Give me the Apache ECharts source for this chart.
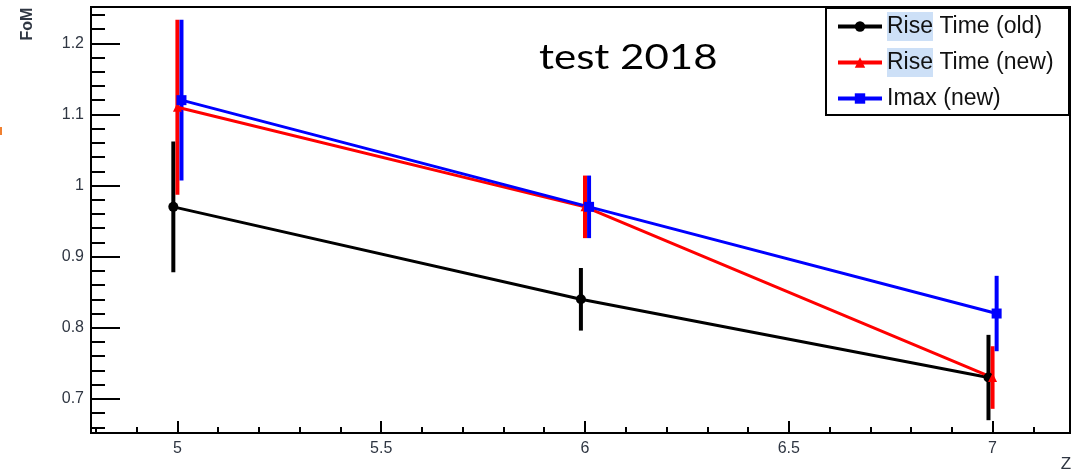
<!DOCTYPE html>
<html>
<head>
<meta charset="utf-8">
<script src="https://cdn.jsdelivr.net/npm/echarts@6/dist/echarts.min.js"></script>
<style>
  html, body { margin: 0; padding: 0; background: #fff; }
  #main { width: 1086px; height: 472px; }
</style>
</head>
<body>
<div id="main"></div>
<script>
// values (points are shifted a bit in Z so the bars don't overlap)
var zOld = [4.99, 5.99, 6.99];
var fomOld = [0.97, 0.84, 0.73];
var errOld = [0.092, 0.044, 0.06];

var zRiseNew = [5.0, 6.0, 7.0];
var fomRiseNew = [1.11, 0.97, 0.73];
var errRiseNew = [0.123, 0.044, 0.044];

var zImax = [5.01, 6.01, 7.01];
var fomImax = [1.12, 0.97, 0.82];
var errImax = [0.113, 0.044, 0.053];

var xMajor = [5, 5.5, 6, 6.5, 7];
var yMajor = [0.7, 0.8, 0.9, 1.0, 1.1, 1.2];

var xMinor = [];
for (var i = 48; i <= 71; i++) { if (i % 5 !== 0) xMinor.push(i / 10); }
var yMinor = [];
for (var j = 33; j <= 62; j++) { if (j % 5 !== 0) yMinor.push(j / 50); }

var labelColor = '#2f3642';

function pairs(xs, ys) {
    return xs.map(function (x, k) { return [x, ys[k]]; });
}

function errSeries(name, xs, ys, es, color) {
    return {
        name: name,
        type: 'custom',
        xAxisIndex: 0,
        yAxisIndex: 0,
        data: xs.map(function (x, k) { return [x, ys[k] - es[k], ys[k] + es[k]]; }),
        renderItem: function (params, api) {
            var p1 = api.coord([api.value(0), api.value(1)]);
            var p2 = api.coord([api.value(0), api.value(2)]);
            return {
                type: 'line',
                shape: { x1: p1[0], y1: p1[1], x2: p2[0], y2: p2[1] },
                style: { stroke: color, lineWidth: 4 }
            };
        }
    };
}

function lineSeries(name, xs, ys, color, symbol, size) {
    return {
        name: name,
        type: 'line',
        xAxisIndex: 0,
        yAxisIndex: 0,
        data: pairs(xs, ys),
        symbol: symbol,
        symbolSize: size,
        color: color,
        itemStyle: { color: color },
        lineStyle: { color: color, width: 3 },
        animation: false
    };
}

var chart = echarts.init(document.getElementById('main'));
chart.setOption({
    animation: false,
    grid: {
        left: 91, right: 16, top: 7, bottom: 39,
        show: true,
        borderColor: '#000',
        borderWidth: 2
    },
    xAxis: [
        {
            type: 'value', min: 4.788, max: 7.19, position: 'bottom',
            axisLine: { onZero: false, lineStyle: { color: '#000', width: 2 } },
            axisTick: { inside: true, length: 12, customValues: xMajor, lineStyle: { color: '#000', width: 2 } },
            axisLabel: {
                customValues: xMajor, margin: 8, color: labelColor,
                fontFamily: 'Liberation Sans', fontSize: 16
            },
            splitLine: { show: false }
        },
        {
            type: 'value', min: 4.788, max: 7.19, position: 'bottom',
            axisLine: { show: false },
            axisTick: { inside: true, length: 6, customValues: xMinor, lineStyle: { color: '#000', width: 2 } },
            axisLabel: { show: false },
            splitLine: { show: false }
        }
    ],
    yAxis: [
        {
            type: 'value', min: 0.652, max: 1.251, position: 'left',
            axisLine: { show: true, onZero: false, lineStyle: { color: '#000', width: 2 } },
            axisTick: { show: true, inside: true, length: 29, customValues: yMajor, lineStyle: { color: '#000', width: 2 } },
            axisLabel: {
                customValues: yMajor, margin: 7, color: labelColor,
                fontFamily: 'Liberation Sans', fontSize: 16,
                formatter: function (v) { return String(Math.round(v * 10) / 10); }
            },
            splitLine: { show: false }
        },
        {
            type: 'value', min: 0.652, max: 1.251, position: 'left',
            axisLine: { show: false },
            axisTick: { show: true, inside: true, length: 14, customValues: yMinor, lineStyle: { color: '#000', width: 2 } },
            axisLabel: { show: false },
            splitLine: { show: false }
        }
    ],
    legend: {
        orient: 'vertical',
        left: 836, top: 12,
        padding: 0,
        itemWidth: 44, itemHeight: 13, itemGap: 7,
        z: 5,
        lineStyle: { width: 4 },
        textStyle: {
            fontFamily: 'Liberation Sans', fontSize: 23, color: '#111', lineHeight: 29,
            rich: {
                hl: { backgroundColor: '#cde0f7', fontFamily: 'Liberation Sans', fontSize: 23, color: '#111', lineHeight: 29, height: 29 }
            }
        },
        formatter: function (name) {
            return name.indexOf('Rise') === 0 ? '{hl|Rise}' + name.slice(4) : name;
        },
        data: ['Rise Time (old)', 'Rise Time (new)', 'Imax (new)']
    },
    graphic: [
        {
            type: 'rect', z: 3,
            shape: { x: 826, y: 8, width: 243, height: 107 },
            style: { fill: '#fff', stroke: '#000', lineWidth: 2 }
        },
        {
            type: 'text', x: 539, y: 58, scaleX: 1.2, z: 4,
            style: {
                text: 'test 2018', fill: '#000', fontFamily: 'Lato', fontSize: 35,
                align: 'left', verticalAlign: 'middle'
            }
        },
        {
            type: 'text', x: 28, y: 24, rotation: Math.PI / 2,
            style: {
                text: 'FoM', fill: labelColor, fontFamily: 'Liberation Sans', fontSize: 16,
                fontWeight: 'bold', align: 'center', verticalAlign: 'middle'
            }
        },
        {
            type: 'text', x: 1066, y: 464,
            style: {
                text: 'Z', fill: labelColor, fontFamily: 'Liberation Sans', fontSize: 17,
                align: 'center', verticalAlign: 'middle'
            }
        },
        {
            type: 'rect',
            shape: { x: 0, y: 127, width: 2, height: 8 },
            style: { fill: '#f08030' }
        }
    ],
    series: [
        errSeries('err old', zOld, fomOld, errOld, '#000'),
        lineSeries('Rise Time (old)', zOld, fomOld, '#000', 'circle', 10),
        errSeries('err rise new', zRiseNew, fomRiseNew, errRiseNew, '#ff0000'),
        lineSeries('Rise Time (new)', zRiseNew, fomRiseNew, '#ff0000', 'triangle', 9),
        errSeries('err imax', zImax, fomImax, errImax, '#0000ff'),
        lineSeries('Imax (new)', zImax, fomImax, '#0000ff', 'rect', 10)
    ]
});
</script>
</body>
</html>
